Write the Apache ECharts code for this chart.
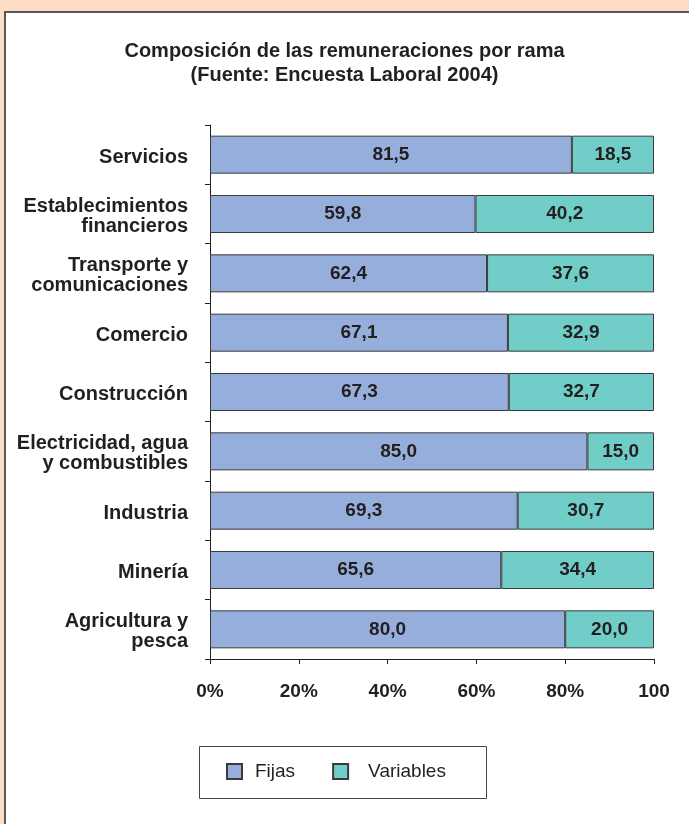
<!DOCTYPE html>
<html>
<head>
<meta charset="utf-8">
<script src="https://cdn.jsdelivr.net/npm/echarts@6/dist/echarts.min.js"></script>
<style>
  html, body { margin: 0; padding: 0; background: #fddcc6; }
  #frame {
    position: absolute; left: 4px; top: 11px; width: 685px; height: 813px;
    background: #ffffff; border-left: 2px solid #58585a; border-top: 2px solid #58585a;
    box-sizing: border-box;
  }
  #chart { position: absolute; left: 0; top: 0; width: 689px; height: 824px; }
</style>
</head>
<body>
<div id="frame"></div>
<div id="chart"></div>
<script>
// ramas (de arriba hacia abajo)
const ramas = [
    'Servicios',
    'Establecimientos\nfinancieros',
    'Transporte y\ncomunicaciones',
    'Comercio',
    'Construcción',
    'Electricidad, agua\ny combustibles',
    'Industria',
    'Minería',
    'Agricultura y\npesca'
];
const fijas = [81.5, 59.8, 62.4, 67.1, 67.3, 85.0, 69.3, 65.6, 80.0];
const variables = [18.5, 40.2, 37.6, 32.9, 32.7, 15.0, 30.7, 34.4, 20.0];
const ticksX = ['0%', '20%', '40%', '60%', '80%', '100'];

const FONT = 'Liberation Sans, Arial, sans-serif';
const TXT = '#231f20';

const chart = echarts.init(document.getElementById('chart'), null, { renderer: 'canvas' });

const etiqueta = {
    show: true,
    position: 'inside',
    fontFamily: FONT,
    fontWeight: 'bold',
    fontSize: 19,
    color: TXT,
    formatter: (p) => p.value.toFixed(1).replace('.', ',')
};

// cada línea de la etiqueta de rama baja un poco dentro de su caja
const ramaTxt = { fontFamily: FONT, fontWeight: 'bold', fontSize: 20, color: TXT };

const option = {
    backgroundColor: 'transparent',
    animation: false,
    title: {
        text: 'Composición de las remuneraciones por rama\n(Fuente: Encuesta Laboral 2004)',
        left: 'center',
        top: 34,
        textStyle: {
            fontFamily: FONT,
            fontWeight: 'bold',
            fontSize: 20,
            lineHeight: 24,
            color: TXT
        }
    },
    grid: { left: 210, right: 35, top: 125, bottom: 165 },
    xAxis: {
        type: 'value',
        min: 0,
        max: 100,
        interval: 20,
        splitLine: { show: false },
        axisLine: { show: true, lineStyle: { color: '#231f20', width: 1 } },
        axisTick: { show: true, length: 5, lineStyle: { color: '#231f20' } },
        axisLabel: {
            margin: 23,
            fontFamily: FONT,
            fontWeight: 'bold',
            fontSize: 19,
            color: TXT,
            formatter: (v) => ticksX[Math.round(v / 20)]
        }
    },
    yAxis: {
        type: 'category',
        inverse: true,
        data: ramas,
        axisLine: { show: true, lineStyle: { color: '#231f20', width: 1 } },
        axisTick: { show: true, length: 5, lineStyle: { color: '#231f20' } },
        axisLabel: {
            margin: 22,
            ...ramaTxt,
            lineHeight: 20,
            align: 'right',
            formatter: (v) => v.split('\n').map(l => '{r|' + l + '}').join('\n'),
            rich: {
                r: { ...ramaTxt, lineHeight: 20, padding: [5, 0, 0, 0] }
            }
        }
    },
    legend: {
        left: 226,
        top: 762,
        padding: 0,
        icon: 'rect',
        itemWidth: 15,
        itemHeight: 15,
        itemGap: 37,
        textStyle: { fontFamily: FONT, fontSize: 19, color: TXT },
        data: [
            { name: 'Fijas', textStyle: { padding: [0, 0, 0, 8] } },
            { name: 'Variables', textStyle: { padding: [0, 0, 0, 15] } }
        ]
    },
    graphic: [
        {
            type: 'rect',
            shape: { x: 199.5, y: 746.5, width: 287, height: 52 },
            style: { fill: 'none', stroke: '#444', lineWidth: 1 },
            z: 0
        }
    ],
    series: [
        {
            name: 'Fijas',
            type: 'bar',
            stack: 'total',
            barWidth: 38,
            data: fijas,
            itemStyle: { color: '#95aedb', borderColor: '#3a3a3a', borderWidth: 1 },
            label: etiqueta
        },
        {
            name: 'Variables',
            type: 'bar',
            stack: 'total',
            barWidth: 38,
            data: variables,
            itemStyle: { color: '#70cdc8', borderColor: '#3a3a3a', borderWidth: 1 },
            label: etiqueta
        }
    ]
};

chart.setOption(option);
</script>
</body>
</html>
